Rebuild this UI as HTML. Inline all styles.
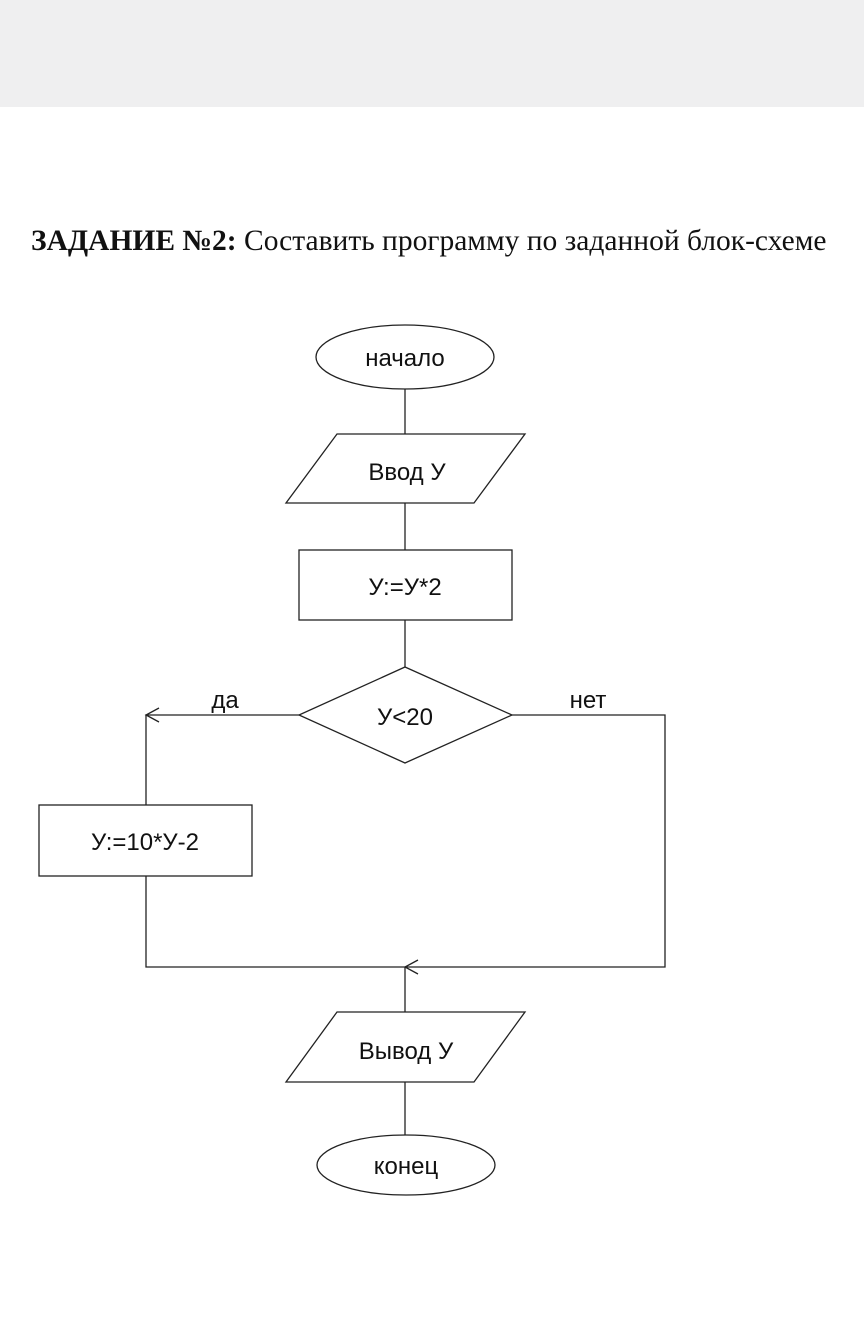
<!DOCTYPE html>
<html><head><meta charset="utf-8"><style>
html,body{margin:0;padding:0;background:#fff;}
body{width:864px;height:1344px;position:relative;overflow:hidden;}
.top{position:absolute;left:0;top:0;width:864px;height:107px;background:#efeff0;}
.title{position:absolute;left:31px;top:225px;font-family:"Liberation Serif",serif;font-size:29.5px;color:#111;white-space:nowrap;}
svg{position:absolute;left:0;top:0;}
text{font-family:"Liberation Sans","DejaVu Sans",sans-serif;font-size:24px;fill:#111;}
</style></head><body>
<div class="top"></div>
<div class="title"><b>ЗАДАНИЕ №2:</b> Составить программу по заданной блок-схеме</div>
<svg width="864" height="1344" viewBox="0 0 864 1344" fill="none" stroke="#222" stroke-width="1.3">
<ellipse cx="405" cy="357" rx="89" ry="32" fill="#fff"/>
<line x1="405" y1="389" x2="405" y2="434"/>
<polygon points="337,434 525,434 474,503 286,503" fill="#fff"/>
<line x1="405" y1="503" x2="405" y2="550"/>
<rect x="299" y="550" width="213" height="70" fill="#fff"/>
<line x1="405" y1="620" x2="405" y2="667"/>
<polygon points="405,667 512,715 405,763 299,715" fill="#fff"/>
<polyline points="299,715 146,715 146,805"/>
<polyline points="159,708 146,715 159,722"/>
<rect x="39" y="805" width="213" height="71" fill="#fff"/>
<polyline points="146,876 146,967 665,967 665,715 512,715"/>
<polyline points="418,960 405,967 418,974"/>
<line x1="405" y1="967" x2="405" y2="1012"/>
<polygon points="337,1012 525,1012 474,1082 286,1082" fill="#fff"/>
<line x1="405" y1="1082" x2="405" y2="1135"/>
<ellipse cx="406" cy="1165" rx="89" ry="30" fill="#fff"/>
<g stroke="none" text-anchor="middle">
<text x="405" y="366">начало</text>
<text x="407" y="480">Ввод У</text>
<text x="405" y="595">У:=У*2</text>
<text x="405" y="725">У&lt;20</text>
<text x="225" y="708">да</text>
<text x="588" y="708">нет</text>
<text x="145" y="850">У:=10*У-2</text>
<text x="406" y="1059">Вывод У</text>
<text x="406" y="1174">конец</text>
</g>
</svg>
</body></html>
